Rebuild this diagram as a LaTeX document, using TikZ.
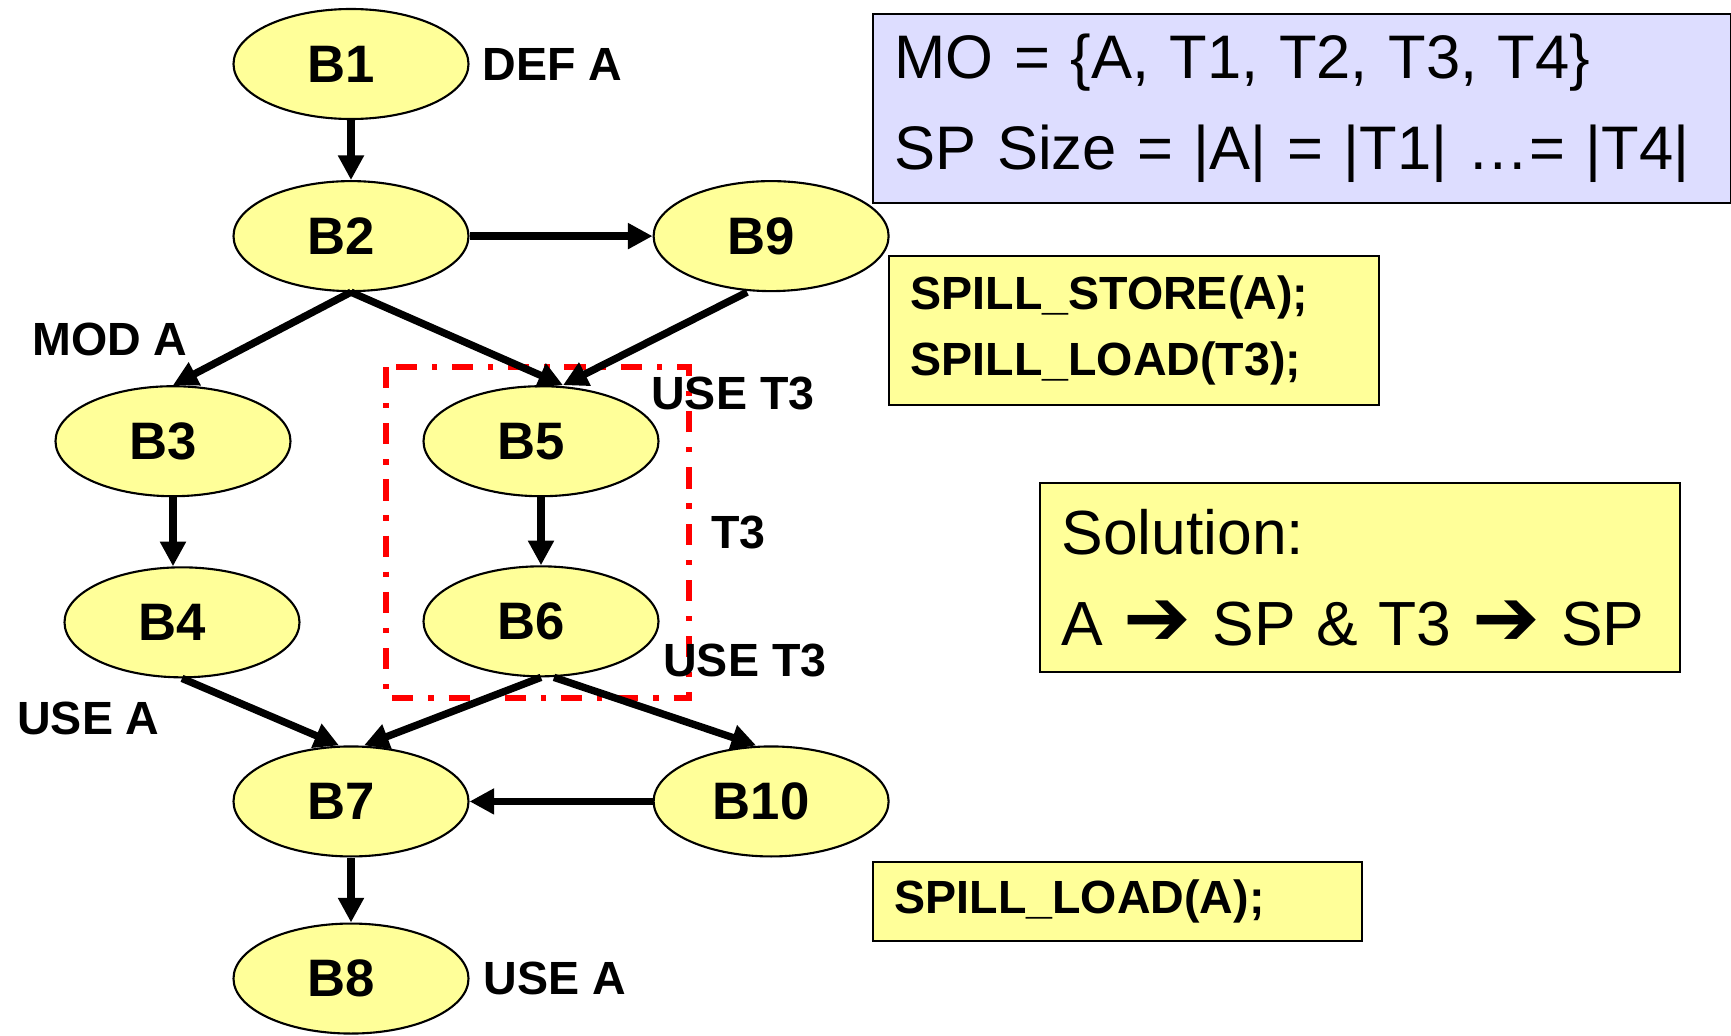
\documentclass[tikz,border=0pt]{standalone}
\usepackage{fontspec}
\setmainfont{Liberation Sans}
\newfontfamily\dingfont{DejaVu Sans}
\usepackage{xcolor}
\usetikzlibrary{shapes.geometric, arrows.meta, positioning}

\definecolor{blockyellow}{RGB}{255,255,153}
\definecolor{molavender}{RGB}{221,221,255}

\begin{document}
\begin{tikzpicture}[
    node distance=1.2cm and 3.66cm,
    block/.style={ellipse, draw, line width=1.2pt, fill=blockyellow, minimum width=4.7cm, minimum height=2.2cm, inner sep=0pt, font=\bfseries\fontsize{30}{34}\selectfont, execute at end node={\kern0.4cm}},
    note/.style={inner sep=0pt, anchor=west, font=\bfseries\fontsize{26.5}{32}\selectfont},
    infobox/.style={rectangle, draw, line width=1.2pt, anchor=north west, align=left, inner xsep=0.43cm, inner ysep=0pt},
    arrow/.style={-{Triangle[length=14pt, width=14pt]}, line width=4.2pt},
    spillbox/.style={draw=red, line width=3.2pt, dash pattern=on 12pt off 8.5pt on 3pt off 8.5pt}
]
\useasboundingbox (0,0) rectangle (34.62,-20.7);

% T3 region
\draw[spillbox] (7.72,-7.34) rectangle (13.78,-13.96);

\node[block] (b1) at (7.02,-1.28) {B1};
\node[block, below=of b1] (b2) {B2};
\node[block, right=of b2] (b9) {B9};
\node[block, below=1.86cm of b2, xshift=-3.56cm] (b3) {B3};
\node[block, below=1.86cm of b2, xshift=3.8cm] (b5) {B5};
\node[block, below=1.38cm of b3, xshift=0.18cm] (b4) {B4};
\node[block, below=1.36cm of b5] (b6) {B6};
\node[block, below=1.36cm of b6, xshift=-3.8cm] (b7) {B7};
\node[block, right=of b7] (b10) {B10};
\node[block, below=1.3cm of b7] (b8) {B8};

\node[note, right=0.26cm of b1] (defa) {DEF A};
\node[note] (moda) at (0.64,-6.78) {MOD A};
\node[note] (uset5) at (13.02,-7.87) {USE T3};
\node[note] (tthree) at (14.22,-10.64) {T3};
\node[note] (uset6) at (13.26,-13.2) {USE T3};
\node[note] (usea4) at (0.34,-14.36) {USE A};
\node[note, right=0.28cm of b8] (usea8) {USE A};

\node[infobox, fill=molavender, text width=16.3cm, minimum height=3.78cm, font=\fontsize{35}{51.8}\selectfont] (mo) at (17.44,-0.26) {MO = \{A, T1, T2, T3, T4\}\\SP Size = |A| = |T1| …= |T4|};
\node[infobox, fill=blockyellow, text width=8.94cm, minimum height=2.98cm, font=\bfseries\fontsize{26.5}{38}\selectfont] (spill) at (17.76,-5.1) {SPILL\_STORE(A);\\SPILL\_LOAD(T3);};
\node[infobox, fill=blockyellow, text width=11.94cm, minimum height=3.78cm, font=\fontsize{35.5}{51.8}\selectfont] (solution) at (20.78,-9.64) {Solution:\\A {\dingfont\bfseries\fontsize{46}{46}\selectfont ➔} SP \& T3 {\dingfont\bfseries\fontsize{46}{46}\selectfont ➔} SP};
\node[infobox, fill=blockyellow, text width=8.92cm, minimum height=1.58cm, font=\bfseries\fontsize{26.5}{32}\selectfont] (load) at (17.44,-17.22) {SPILL\_LOAD(A);};

\draw[arrow] (b1) -- (b2);
\draw[arrow] (b2) -- (b9);
\draw[arrow] (b2.south) -- (b3.north);
\draw[arrow] (b2.south) -- ([xshift=0.44cm]b5.north);
\draw[arrow] ([xshift=-0.48cm]b9.south) -- ([xshift=0.44cm]b5.north);
\draw[arrow] (b3.south) -- (b3.south |- b4.north);
\draw[arrow] (b5) -- (b6);
\draw[arrow] (b4.south) -- ([xshift=-0.24cm]b7.north);
\draw[arrow] (b6.south) -- ([xshift=0.26cm]b7.north);
\draw[arrow] ([xshift=0.26cm]b6.south) -- ([xshift=-0.3cm]b10.north);
\draw[arrow] (b10) -- (b7);
\draw[arrow] (b7) -- (b8);
\end{tikzpicture}
\end{document}
